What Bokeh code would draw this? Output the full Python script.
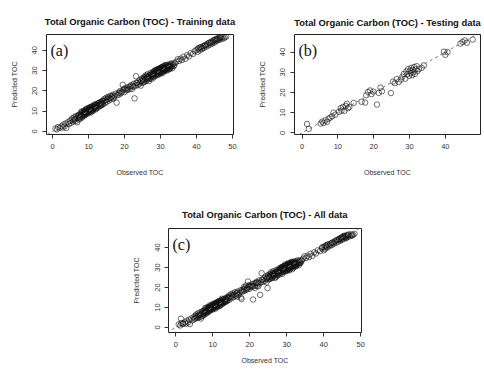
from bokeh.plotting import figure
from bokeh.layouts import row, column
from bokeh.models import Spacer, Label, Slope, FixedTicker, Range1d
from bokeh.embed import file_html
from bokeh.resources import INLINE

# ---------------- data ----------------
obs_train = [0.8, 1.2, 1.5, 2.0, 2.5, 2.8, 3.0, 3.3, 3.6, 3.8, 4.2, 4.5, 4.8, 5.0, 5.3,
             5.5, 5.7, 5.9, 6.0, 6.2, 6.4, 6.5, 6.7, 6.8, 7.0, 7.1, 7.3, 7.4, 7.6, 7.7, 7.9, 8.0, 8.1, 8.2, 8.4,
             8.5, 8.6, 8.7, 8.8, 8.9, 9.0, 9.1, 9.2, 9.3, 9.4, 9.5, 9.6, 9.7, 9.8, 9.9, 10.0, 10.1, 10.2, 10.3, 10.4,
             10.5, 10.6, 10.7, 10.8, 10.9, 11.0, 11.1, 11.2, 11.3, 11.5, 11.6, 11.8, 11.9, 12.0, 12.2, 12.3, 12.5, 12.6, 12.8, 13.0,
             13.2, 13.4, 13.5, 13.7, 13.9, 14.0, 14.2, 14.4, 14.5, 14.7, 14.9, 15.0, 15.2, 15.4, 15.6, 15.8, 16.0, 16.2, 16.4, 16.7,
             16.9, 17.2, 17.5, 17.8, 18.0,
             18.3, 18.5, 18.8, 19.0, 19.3, 19.5, 19.7, 20.0, 20.2, 20.5, 20.8, 21.0, 21.3, 21.5, 21.8, 22.0, 22.3, 22.5, 22.8, 23.0,
             23.2, 23.4, 23.6, 23.9, 24.1, 24.3, 24.5, 24.7, 24.9, 25.0,
             25.2, 25.4, 25.5, 25.7, 25.8, 26.0, 26.1, 26.3, 26.4, 26.5, 26.7, 26.8, 27.0, 27.1, 27.2, 27.4, 27.5, 27.6, 27.8, 27.9,
             28.0, 28.1, 28.2, 28.4, 28.5, 28.6, 28.7, 28.8, 28.9, 29.0, 29.1, 29.2, 29.3, 29.4, 29.5, 29.6, 29.7, 29.8, 29.9, 30.0,
             30.1, 30.2, 30.3, 30.4, 30.5, 30.6, 30.7, 30.8, 30.9, 31.0, 31.1, 31.2, 31.3, 31.4, 31.5, 31.6, 31.7, 31.8, 31.9, 32.0,
             32.2, 32.3, 32.5, 32.7, 32.9, 33.1, 33.3, 33.5, 33.8, 34.0,
             34.4, 34.8, 35.2, 35.6, 36.0, 36.4, 36.9, 37.4, 37.9, 38.4, 39.0, 39.5,
             40.0, 40.3, 40.6, 40.9, 41.2, 41.5, 41.8, 42.1, 42.4, 42.7, 43.0, 43.3, 43.6, 43.9, 44.2, 44.4, 44.7, 44.9, 45.2, 45.4,
             45.7, 45.9, 46.2, 46.4, 46.7, 47.0, 47.3, 47.6, 47.9, 48.3,
             7.2, 7.5, 7.8, 8.0, 8.3, 8.5, 8.7, 8.9, 9.0, 9.2, 9.4, 9.5, 9.7, 9.9, 10.0, 10.2, 10.4, 10.5, 10.7, 10.9,
             11.0, 11.2, 11.4, 11.6, 11.8, 12.0, 12.2, 12.4, 12.6, 12.8, 13.0, 13.3, 13.6, 13.8, 14.1,
             15.5, 16.5, 17.0, 18.5, 19.8, 20.6, 21.6, 22.6, 23.3, 24.4,
             25.0, 25.3, 25.6, 25.9, 26.2, 26.5, 26.8, 27.0, 27.3, 27.6, 27.8, 28.0, 28.2, 28.3, 28.5, 28.7, 28.9, 29.0, 29.2, 29.4,
             29.5, 29.7, 29.8, 30.0, 30.1, 30.2, 30.4, 30.5, 30.6, 30.8, 30.9, 31.0, 31.2, 31.3, 31.5, 31.6, 31.8, 32.0, 32.1, 32.4,
             32.6, 32.8, 33.0, 33.2, 33.6,
             40.4, 41.0, 41.6, 42.2, 42.8, 43.4, 44.0, 44.6, 45.0, 45.6, 46.0, 46.6]
pred_train = [1.5, 1.0, 2.2, 1.8, 2.6, 1.9, 3.4, 2.5, 3.9, 1.7, 4.5, 3.6, 5.2, 4.1, 5.8,
              6.5, 4.8, 5.5, 7.0, 6.1, 5.2, 7.5, 6.6, 4.5, 7.8, 6.9, 5.9, 8.3, 7.2, 6.4, 8.8, 7.6, 9.5, 6.9, 8.1,
              9.0, 10.2, 8.4, 9.6, 7.8, 10.0, 9.1, 11.0, 8.6, 9.8, 10.6, 9.2, 11.4, 10.1, 8.9, 10.5, 11.6, 9.7, 10.9, 12.0,
              10.2, 11.2, 9.4, 11.8, 10.7, 12.4, 11.0, 10.1, 12.0, 11.4, 13.0, 11.9, 10.8, 12.6, 12.0, 13.4, 11.6, 12.9, 14.0, 12.4,
              13.5, 14.6, 12.8, 14.1, 15.2, 13.6, 14.8, 16.0, 13.9, 15.4, 16.6, 14.6, 15.9, 17.0, 15.2, 16.4, 17.6, 15.8, 16.9, 18.0,
              16.2, 17.4, 18.6, 14.2, 17.9,
              19.0, 18.2, 20.0, 18.8, 19.6, 23.0, 20.4, 19.4, 21.2, 20.3, 21.8, 20.6, 22.0, 21.0, 22.8, 20.9, 22.4, 23.5, 16.3, 22.6,
              27.2, 23.8, 22.8, 24.6, 23.4, 25.5, 22.6, 24.8, 26.2, 24.0,
              25.4, 26.8, 24.6, 25.9, 27.6, 26.2, 24.9, 27.0, 28.2, 25.8, 26.9, 24.8, 27.8, 26.4, 28.8, 27.2, 25.9, 28.4, 27.0, 29.4,
              28.1, 26.6, 29.0, 28.3, 30.1, 27.4, 29.2, 28.0, 30.4, 29.0, 27.8, 29.8, 28.6, 30.8, 29.4, 28.1, 30.2, 29.0, 31.2, 29.8,
              28.6, 30.6, 31.6, 29.4, 30.3, 31.0, 29.0, 31.8, 30.4, 31.2, 29.8, 32.2, 30.8, 31.6, 30.2, 32.4, 31.0, 30.0, 31.8, 32.8,
              31.4, 30.6, 32.2, 31.5, 33.0, 32.0, 31.2, 33.4, 32.6, 33.6,
              34.4, 35.6, 34.8, 35.9, 35.2, 36.8, 35.8, 37.6, 37.0, 38.6, 38.2, 39.6,
              40.2, 39.2, 41.0, 40.0, 41.6, 40.6, 42.0, 41.2, 42.6, 41.8, 43.2, 42.4, 43.8, 42.9, 44.4, 43.4, 44.9, 43.8, 45.4, 44.4,
              45.8, 44.9, 46.2, 45.2, 46.5, 45.6, 46.6, 45.9, 46.4, 46.8,
              8.0, 6.5, 8.2, 9.8, 7.4, 8.5, 9.9, 9.4, 8.2, 9.6, 10.8, 9.0, 10.0, 11.0, 9.4, 10.6, 11.2, 9.9, 12.0, 11.4,
              10.4, 12.6, 11.0, 12.2, 13.4, 11.2, 13.0, 12.4, 13.8, 12.6, 14.2, 13.0, 14.4, 13.2, 15.0,
              16.2, 17.4, 16.8, 19.2, 21.0, 20.8, 22.2, 22.0, 24.0, 24.2,
              25.6, 24.2, 26.4, 25.2, 27.4, 26.6, 27.4, 26.0, 27.9, 27.4, 28.6, 27.2, 28.6, 29.8, 28.8, 30.0, 29.4, 28.4, 30.6, 29.6,
              30.6, 29.2, 31.0, 30.6, 31.4, 29.0, 30.8, 31.8, 29.6, 30.6, 32.2, 30.2, 31.0, 32.8, 31.4, 30.6, 32.6, 31.2, 32.0, 33.0,
              30.8, 32.0, 33.6, 32.6, 32.2,
              40.8, 41.4, 41.2, 42.2, 42.6, 43.6, 43.8, 44.2, 45.0, 45.2, 45.6, 46.0]

obs_test = [1.4, 1.9, 5.2, 5.6, 6.0, 6.5, 7.0, 7.4, 7.9, 8.4, 8.8, 9.3, 10.3, 10.8, 11.0, 11.4, 11.8, 12.2, 12.5, 12.8,
            13.2, 14.4, 16.6, 17.6, 17.9, 18.4, 19.0, 19.4, 19.9, 20.9, 21.4, 21.9, 22.3, 24.8, 25.4, 25.9, 26.4, 27.0, 27.6, 28.0,
            28.4, 28.8, 29.1, 29.4, 29.6, 29.9, 30.1, 30.3, 30.5, 30.7, 30.9, 31.1, 31.3, 31.5, 31.7, 32.0, 32.2, 32.6, 33.4, 34.0,
            39.6, 40.0, 40.6, 44.2, 44.8, 45.4, 46.0, 47.6]
pred_test = [4.4, 2.0, 4.6, 5.6, 4.9, 6.2, 5.5, 7.0, 7.6, 8.2, 10.0, 9.0, 10.4, 12.2, 11.0, 12.8, 10.9, 13.4, 14.4, 12.2,
             12.8, 14.8, 15.4, 15.0, 18.6, 20.2, 21.0, 19.2, 20.4, 14.0, 19.8, 22.4, 20.6, 19.7, 25.4, 24.6, 26.6, 25.2, 26.4, 27.8,
             29.2, 26.8, 30.4, 29.0, 31.6, 28.2, 30.8, 29.6, 32.2, 28.6, 31.2, 30.0, 32.6, 29.2, 31.4, 33.0, 30.6, 31.6, 32.2, 33.4,
             40.2, 38.6, 40.0, 44.2, 45.0, 45.8, 44.6, 46.2]

obs_all = obs_train + obs_test
pred_all = pred_train + pred_test

ticks = [0, 10, 20, 30, 40, 50]
titles = ["Total Organic Carbon (TOC) - Training data",
          "Total Organic Carbon (TOC) - Testing data",
          "Total Organic Carbon (TOC) - All data"]
tags = ["(a)", "(b)", "(c)"]
xlab = "Observed TOC"
ylab = "Predicted TOC"

SANS = "Liberation Sans"
SERIF = "Liberation Serif"


def panel(xs, ys, title, tag, xr, yr, w, h, mb, xstand, tstand):
    left, right, top, bottom = mb
    p = figure(width=w, height=h, output_backend="svg", toolbar_location=None,
               x_range=Range1d(*xr), y_range=Range1d(*yr),
               min_border_left=left, min_border_right=right,
               min_border_top=top, min_border_bottom=bottom)
    p.title.text = title
    p.title.align = "center"
    p.title.vertical_align = "top"
    p.title.text_font = SANS
    p.title.text_font_size = "9.4px"
    p.title.text_font_style = "bold"
    p.title.text_color = "#111111"
    p.title.standoff = tstand
    p.grid.visible = False
    p.outline_line_color = "#222222"
    p.outline_line_width = 1
    p.background_fill_color = "white"
    p.border_fill_color = "white"
    for ax in (p.xaxis[0], p.yaxis[0]):
        ax.ticker = FixedTicker(ticks=ticks)
        ax.minor_tick_line_color = None
        ax.major_tick_in = 0
        ax.major_tick_out = 4
        ax.major_tick_line_color = "#333333"
        ax.axis_line_color = None
        ax.major_label_text_font = SANS
        ax.major_label_text_font_size = "7.5px"
        ax.major_label_text_color = "#333333"
        ax.major_label_standoff = 5
        ax.axis_label_text_font = SANS
        ax.axis_label_text_font_size = "7px"
        ax.axis_label_text_font_style = "normal"
        ax.axis_label_text_color = "#333333"
    p.xaxis[0].axis_label = xlab
    p.yaxis[0].axis_label = ylab
    p.xaxis[0].axis_label_standoff = xstand
    p.yaxis[0].axis_label_standoff = 12
    p.yaxis[0].major_label_orientation = "vertical"
    p.add_layout(Slope(gradient=1, y_intercept=0, line_color="#777777",
                       line_dash="3 3", line_width=1))
    p.scatter(xs, ys, marker="circle", size=5.5, fill_color=None,
              line_color="#111111", line_width=0.6)
    p.add_layout(Label(x=xr[0], y=yr[1], x_offset=4, y_offset=-7, text=tag,
                       text_font=SERIF, text_font_size="16px",
                       text_align="left", text_baseline="top",
                       text_color="#111111"))
    return p


pa = panel(obs_train, pred_train, titles[0], tags[0], (-1.7, 50.3), (-1.5, 47.8),
           242, 180, (46, 9, 34, 46), 17, 12)
pb = panel(obs_test, pred_test, titles[1], tags[1], (-2.1, 49.8), (-0.8, 48.7),
           242, 180, (52, 4, 32, 46), 17, 10)
pc = panel(obs_all, pred_all, titles[2], tags[2], (-1.97, 50.2), (-2.5, 49.5),
           251, 189, (48, 10, 48, 37), 7, 13)

layout = column(row(pa, pb), row(Spacer(width=120, height=189), pc))

open("out.html", "w").write(file_html(layout, INLINE))
